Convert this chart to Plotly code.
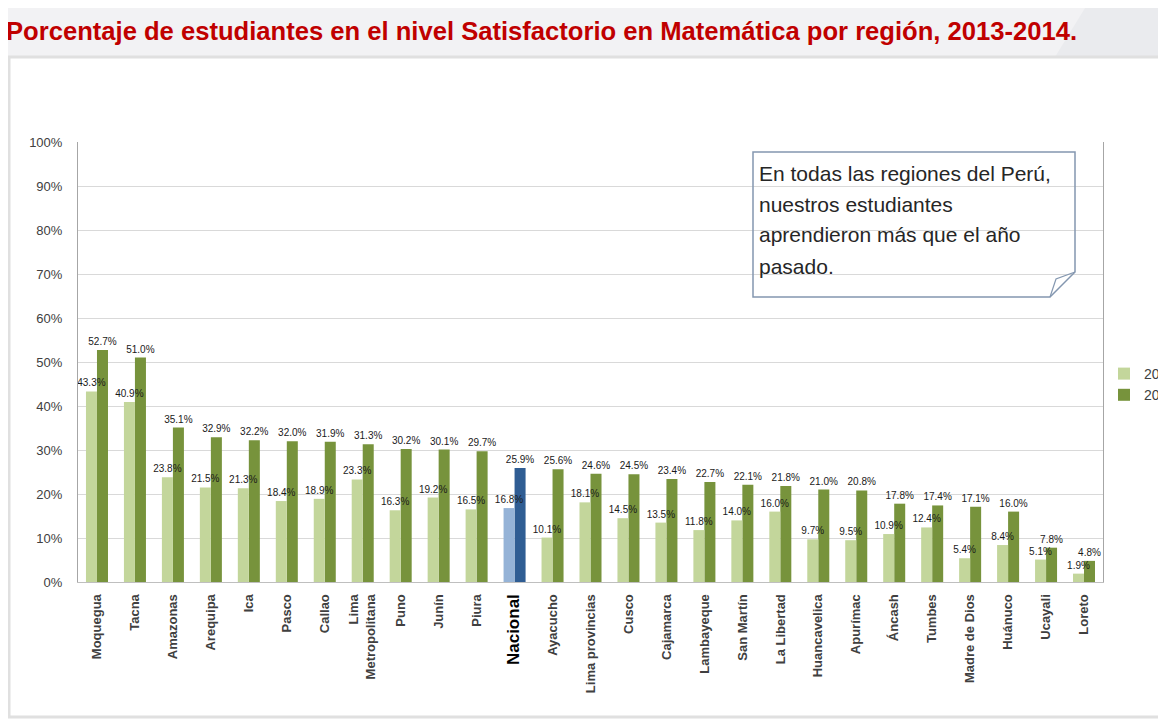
import plotly.graph_objects as go

regions = ["Moquegua", "Tacna", "Amazonas", "Arequipa", "Ica", "Pasco", "Callao",
           "Lima<br>Metropolitana", "Puno", "Junín", "Piura", "Nacional", "Ayacucho",
           "Lima provincias", "Cusco", "Cajamarca", "Lambayeque", "San Martín",
           "La Libertad", "Huancavelica", "Apurímac", "Áncash", "Tumbes",
           "Madre de Dios", "Huánuco", "Ucayali", "Loreto"]
v2013 = [43.3, 40.9, 23.8, 21.5, 21.3, 18.4, 18.9, 23.3, 16.3, 19.2, 16.5, 16.8, 10.1,
         18.1, 14.5, 13.5, 11.8, 14.0, 16.0, 9.7, 9.5, 10.9, 12.4, 5.4, 8.4, 5.1, 1.9]
v2014 = [52.7, 51.0, 35.1, 32.9, 32.2, 32.0, 31.9, 31.3, 30.2, 30.1, 29.7, 25.9, 25.6,
         24.6, 24.5, 23.4, 22.7, 22.1, 21.8, 21.0, 20.8, 17.8, 17.4, 17.1, 16.0, 7.8, 4.8]
series_names = ["2013", "2014"]
yticks = list(range(0, 101, 10))
ytick_labels = [f"{v}%" for v in yticks]
title = "Porcentaje de estudiantes en el nivel Satisfactorio en Matemática por región, 2013-2014."
note_lines = ["En todas las regiones del Perú,", "nuestros estudiantes",
              "aprendieron más que el año", "pasado."]

# reference-pixel geometry (the page body adds an 8px margin, compensated below)
OFF = 8
W, H = 1166, 720
L, R, T, B = 78, 1103, 142, 582


def px(x):
    return (x - L) / (R - L)


def py(y):
    return (B - y) / (B - T)


c13 = ["#95B3D7" if r == "Nacional" else "#C3D69B" for r in regions]
c14 = ["#2F5D93" if r == "Nacional" else "#77933C" for r in regions]

ticktext = ["<b><span style='font-size:17px;color:#000000'>Nacional</span></b>" if r == "Nacional"
            else "<b>" + r + "</b>" for r in regions]

BW = 0.29  # bar width in category units

fig = go.Figure()
# 2014 drawn first so the 2013 labels are painted over the dark bars
fig.add_trace(go.Bar(
    x=regions, y=v2014, name=series_names[1], width=BW, offset=0,
    marker=dict(color=c14, line=dict(width=0)),
    texttemplate="%{y:.1f}%", textposition="outside",
    textfont=dict(family="Liberation Sans", size=10, color="#1A1A1A"),
    cliponaxis=False, constraintext="none",
))
fig.add_trace(go.Bar(
    x=regions, y=v2013, name=series_names[0], width=BW, offset=-BW,
    marker=dict(color=c13, line=dict(width=0)),
    texttemplate="%{y:.1f}%", textposition="outside",
    textfont=dict(family="Liberation Sans", size=10, color="#1A1A1A"),
    cliponaxis=False, constraintext="none",
))

shapes = [
    # title band
    dict(type="rect", xref="paper", yref="paper", x0=px(0), x1=px(W), y0=py(57), y1=py(8),
         fillcolor="#F2F2F4", line=dict(width=0), layer="below"),
    dict(type="path", xref="paper", yref="paper",
         path=f"M {px(1085)} {py(8)} L {px(W)} {py(8)} L {px(W)} {py(57)} L {px(1055)} {py(57)} Z",
         fillcolor="#EAEBEE", line=dict(width=0), layer="below"),
    # frame
    dict(type="rect", xref="paper", yref="paper", x0=px(9), x1=px(W + 10), y0=py(717), y1=py(57),
         fillcolor="rgba(0,0,0,0)", line=dict(color="#E0E0E0", width=3), layer="below"),
    # note box
    dict(type="path", xref="paper", yref="paper",
         path=(f"M {px(753)} {py(152)} L {px(1075)} {py(152)} L {px(1075)} {py(272)} "
               f"L {px(1050)} {py(297)} L {px(753)} {py(297)} Z"),
         fillcolor="rgba(0,0,0,0)", line=dict(color="#8497B0", width=1.5), layer="above"),
    dict(type="path", xref="paper", yref="paper",
         path=(f"M {px(1075)} {py(272)} L {px(1056)} {py(279)} L {px(1050)} {py(297)}"),
         fillcolor="rgba(0,0,0,0)", line=dict(color="#8497B0", width=1.2), layer="above"),
]

annotations = [
    dict(text="<b>" + title + "</b>", xref="paper", yref="paper", x=px(4), y=py(31),
         xanchor="left", yanchor="middle", showarrow=False,
         font=dict(family="Liberation Sans", size=25.6, color="#C00000")),
]
for i, line in enumerate(note_lines):
    annotations.append(dict(text=line, xref="paper", yref="paper", x=px(757), y=py(173 + 31 * i),
                            xanchor="left", yanchor="middle", showarrow=False,
                            font=dict(family="Liberation Sans", size=21, color="#262626")))

fig.update_layout(
    width=W - OFF, height=H - OFF,
    margin=dict(l=L - OFF, r=W - R, t=T - OFF, b=H - B, autoexpand=False),
    paper_bgcolor="white", plot_bgcolor="white",
    barmode="overlay",
    font=dict(family="Liberation Sans", color="#404040"),
    showlegend=True,
    legend=dict(x=px(1104), y=py(358), xanchor="left", yanchor="top",
                font=dict(size=14, color="#404040"), bgcolor="rgba(0,0,0,0)",
                itemwidth=30, tracegroupgap=4, traceorder="reversed"),
    xaxis=dict(tickmode="array", tickvals=regions, ticktext=ticktext, tickangle=-90,
               tickfont=dict(size=13, color="#404040"), showline=True, linecolor="#BFBFBF",
               ticks="", ticklabelstandoff=6, showgrid=False),
    yaxis=dict(range=[0, 100], tickmode="array", tickvals=yticks, ticktext=ytick_labels,
               tickfont=dict(size=13, color="#404040"), gridcolor="#D9D9D9",
               showline=True, linecolor="#A6A6A6", mirror=True, zeroline=False,
               ticks="", ticklabelstandoff=12),
    shapes=shapes, annotations=annotations,
)

fig.write_html("out.html")
